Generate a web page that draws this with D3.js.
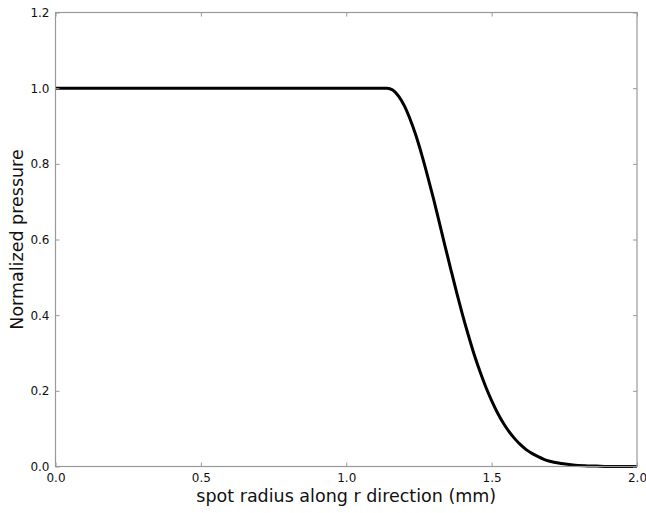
<!DOCTYPE html>
<html>
<head>
<meta charset="utf-8">
<script src="https://cdn.jsdelivr.net/npm/d3@7"></script>
<style>
  html, body { margin: 0; padding: 0; background: #fff; }
  svg { display: block; font-family: "DejaVu Sans", sans-serif; }
</style>
</head>
<body>
<svg id="chart" width="646" height="513"></svg>
<script>
// Normalized pressure profile along the spot radius

// radius (mm)
const radius = [
  0.00, 0.50, 1.00, 1.10, 1.14, 1.16, 1.18, 1.20, 1.22, 1.24, 1.26, 1.28,
  1.30, 1.32, 1.34, 1.36, 1.38, 1.40, 1.42, 1.44, 1.46, 1.48, 1.50, 1.52,
  1.54, 1.56, 1.58, 1.60, 1.62, 1.64, 1.66, 1.68, 1.70, 1.74, 1.78, 1.82,
  1.86, 1.90, 2.00
];
// normalized pressure at those radii
const pressure = [
  1.000, 1.000, 1.000, 1.000, 1.000, 0.995, 0.979, 0.953, 0.917, 0.874, 0.823, 0.767,
  0.708, 0.645, 0.582, 0.520, 0.459, 0.401, 0.347, 0.296, 0.251, 0.210, 0.174, 0.142,
  0.115, 0.092, 0.073, 0.057, 0.044, 0.034, 0.026, 0.019, 0.014, 0.008, 0.004, 0.002,
  0.001, 0.000, 0.000
];

const xTicks = [0.0, 0.5, 1.0, 1.5, 2.0];
const yTicks = [0.0, 0.2, 0.4, 0.6, 0.8, 1.0, 1.2];

const svg = d3.select("#chart");
const mLeft = 55.5, mRight = 637, mTop = 12.5, mBottom = 466.5;

const x = d3.scaleLinear().domain([0, 2]).range([mLeft, mRight]);
const y = d3.scaleLinear().domain([0, 1.2]).range([mBottom, mTop]);

const points = radius.map((r, i) => ({ r, p: pressure[i] }));

// Curve
const line = d3.line()
    .x(d => x(d.r))
    .y(d => y(d.p))
    .curve(d3.curveMonotoneX);

svg.append("path")
    .datum(points)
    .attr("d", line)
    .attr("fill", "none")
    .attr("stroke", "#000")
    .attr("stroke-width", 3)
    .attr("stroke-linejoin", "round");

// Frame
const spine = "#999";
svg.append("rect")
    .attr("x", mLeft).attr("y", mTop)
    .attr("width", mRight - mLeft).attr("height", mBottom - mTop)
    .attr("fill", "none")
    .attr("stroke", spine)
    .attr("stroke-width", 1.2);

// Axes, ticks pointing inward on all four sides
const fmt = d3.format(".1f");
const axisStyle = g => {
    g.select(".domain").remove();
    g.selectAll(".tick line").attr("stroke", spine);
    g.selectAll(".tick text")
        .attr("fill", "#111")
        .attr("font-size", "12px")
        .attr("font-family", "DejaVu Sans, sans-serif");
};

svg.append("g")
    .attr("transform", `translate(0,${mBottom})`)
    .call(d3.axisBottom(x).tickValues(xTicks).tickFormat(fmt).tickSizeInner(-4).tickSizeOuter(0).tickPadding(7))
    .call(axisStyle);

svg.append("g")
    .attr("transform", `translate(0,${mTop})`)
    .call(d3.axisTop(x).tickValues(xTicks).tickFormat("").tickSizeInner(-4).tickSizeOuter(0))
    .call(axisStyle);

svg.append("g")
    .attr("transform", `translate(${mLeft},0)`)
    .call(d3.axisLeft(y).tickValues(yTicks).tickFormat(fmt).tickSizeInner(-4).tickSizeOuter(0).tickPadding(6))
    .call(axisStyle);

svg.append("g")
    .attr("transform", `translate(${mRight},0)`)
    .call(d3.axisRight(y).tickValues(yTicks).tickFormat("").tickSizeInner(-4).tickSizeOuter(0))
    .call(axisStyle);

// Axis labels
svg.append("text")
    .attr("x", (mLeft + mRight) / 2)
    .attr("y", 502)
    .attr("text-anchor", "middle")
    .attr("font-size", "17.5px")
    .attr("fill", "#111")
    .text("spot radius along r direction (mm)");

svg.append("text")
    .attr("transform", `translate(23,${(mTop + mBottom) / 2}) rotate(-90)`)
    .attr("text-anchor", "middle")
    .attr("font-size", "17.5px")
    .attr("fill", "#111")
    .text("Normalized pressure");
</script>
</body>
</html>
